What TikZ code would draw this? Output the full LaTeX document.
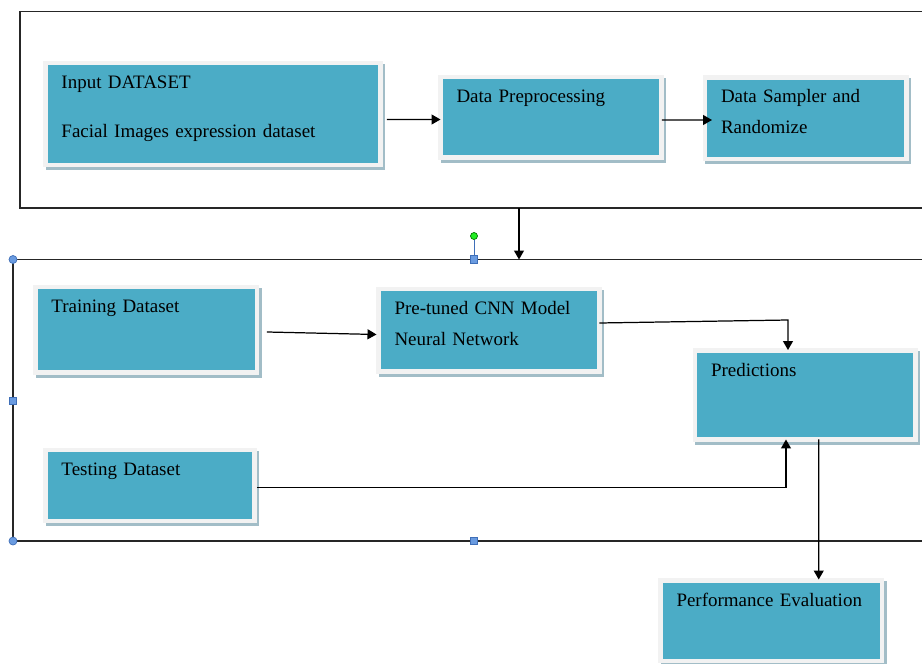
\documentclass[tikz,border=0pt]{standalone}
\usepackage{fontspec}
\setmainfont{Liberation Serif}
\usetikzlibrary{arrows.meta, shadows, calc}
\definecolor{boxfill}{HTML}{4BACC6}
\definecolor{boxrim}{HTML}{F2F2F2}
\definecolor{boxshade}{HTML}{A2BDC7}
\definecolor{handleblue}{HTML}{6A9BE0}
\definecolor{handleedge}{HTML}{3F6FB8}
\definecolor{handlegreen}{HTML}{22EE22}

\begin{document}
\begin{tikzpicture}[x=0.02cm, y=-0.02cm,
  stage/.style={draw=boxrim, line width=0.09cm, fill=boxfill, anchor=north west,
    inner xsep=0.32cm, inner ysep=0pt, outer sep=0pt, align=left,
    text height=0.51cm, font=\fontsize{10.8}{17.6}\selectfont,
    drop shadow={shadow xshift=0.05cm, shadow yshift=-0.06cm, fill=boxshade,
      draw=boxshade, line width=0.09cm, opacity=1}},
  frame/.style={draw=black!85, line width=0.7pt},
  flow/.style={-{Triangle[length=0.18cm, width=0.2cm]}, line width=0.7pt},
  handle/.style={draw=handleedge, fill=handleblue, line width=0.4pt, inner sep=0pt}]
  \useasboundingbox (0,0) rectangle (922,663);
  \clip (0,0) rectangle (922,663);

  % the two frames (open to the right)
  \draw[frame] (940,11.5) -| (20,208) -- (940,208);
  \draw[frame] (940,259.5) -| (13,541) -- (940,541);
  \coordinate (upperfoot) at (519,208);
  \coordinate (lowerhead) at (519,259.5);

  % upper stage
  \node[stage, text width=6.06cm, text depth=1.53cm] (inp) at (45.5,63)
    {Input DATASET\\[0.36cm]Facial Images expression dataset};
  \node[stage, text width=3.78cm, text depth=1.10cm] (pre) at (440.5,77) {Data Preprocessing};
  \node[stage, text width=3.39cm, text depth=1.12cm] (smp) at (705,77.5) {Data Sampler and\\Randomize};

  % lower stage
  \node[stage, text width=3.79cm, text depth=1.20cm] (trn) at (35.5,287) {Training Dataset};
  \node[stage, text width=3.54cm, text depth=0.91cm] (tst) at (45.5,450) {Testing Dataset};
  \node[stage, text width=3.78cm, text depth=1.14cm] (cnn) at (378.5,289) {Pre-tuned CNN Model\\Neural Network};
  \node[stage, text width=3.77cm, text depth=1.27cm] (prd) at (695,350.5) {Predictions};
  \node[stage, text width=3.79cm, text depth=1.10cm] (prf) at (660.5,580.5) {Performance Evaluation};

  % connectors
  \draw[flow] ($(inp.east)+(6.5,5.5)$) -- ($(pre.west)+(0,2.25)$);
  \draw[flow] ($(pre.east)+(0.5,2.75)$) -- ($(smp.west)+(7,1.75)$);
  \draw[flow] (upperfoot) -- (lowerhead);
  \draw[flow] ($(trn.east)+(10,2.25)$) -- ($(cnn.west)+(-2,4.25)$);
  \draw[flow] ($(cnn.east)+(0,-7.25)$) -- ($(prd.north)+(-17.25,-30.5)$) -- ($(prd.north)+(-17.25,-0.5)$);
  \draw[flow] ($(tst.east)+(2.5,2)$) -| ($(prd.south)+(-19.25,0)$);
  \draw[flow] ($(prd.south)+(13.5,0)$) -- ($(prf.north)+(47.5,-1)$);

  % selection handles
  \node[handle, circle, minimum size=0.16cm] (hnw) at (13,259.5) {};
  \node[handle, circle, minimum size=0.16cm] (hsw) at (13,541) {};
  \node[handle, minimum size=0.15cm] (hw) at (13,401) {};
  \node[handle, minimum size=0.15cm] (hn) at (474,259.5) {};
  \node[handle, minimum size=0.15cm] (hs) at (474,541) {};
  \node[handle, circle, fill=handlegreen, draw=green!45!black, minimum size=0.14cm] (hrot) at (474,236) {};
  \draw[handleedge, line width=0.5pt] (hrot) -- (hn);
\end{tikzpicture}
\end{document}
